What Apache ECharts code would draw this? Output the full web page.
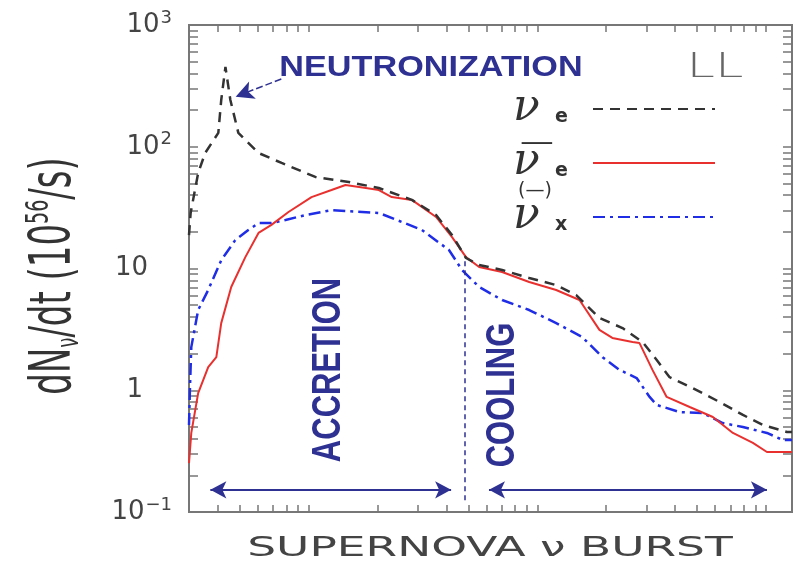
<!DOCTYPE html>
<html>
<head>
<meta charset="utf-8">
<script src="https://cdn.jsdelivr.net/npm/echarts@6/dist/echarts.min.js"></script>
<style>
  html, body { margin: 0; padding: 0; background: #fff; }
  #chart { width: 797px; height: 565px; }
</style>
</head>
<body>
<div id="chart"></div>
<script>
// time (log, arbitrary units) vs dN/dt in 10^56 /s
const nuE = [
  [3.0, 18.8], [3.05, 28.6], [3.29, 60.8], [3.53, 88.9], [4.03, 130], [4.15, 242], [4.33, 452],
  [4.55, 242], [4.93, 130], [6.04, 88.9], [7.62, 73.6], [10.7, 56.5], [15.0, 51.3], [20.3, 45.8],
  [28.3, 36.6], [36.1, 27.5], [42.4, 18.8], [48.8, 12.2], [55.7, 10.7], [70.2, 9.72], [92.2, 8.36],
  [121, 7.31], [148, 6.05], [187, 3.92], [236, 3.24], [289, 2.49], [333, 1.77], [379, 1.28],
  [479, 1.04], [628, 0.80], [793, 0.627], [970, 0.519], [1236, 0.454], [1300, 0.454]
]
const nuEbar = [
  [3.0, 0.252], [3.07, 0.446], [3.29, 0.948], [3.64, 1.55], [3.95, 1.87], [4.15, 3.56], [4.59, 7.05],
  [5.29, 12.4], [6.04, 19.6], [6.88, 22.8], [8.17, 29.1], [10.3, 38.6], [12.6, 44.1], [14.5, 48.5],
  [17.8, 45.8], [20.3, 44.1], [23.1, 38.6], [28.3, 36.6], [36.1, 26.5], [42.4, 18.1], [48.8, 12.4],
  [55.7, 10.3], [70.2, 9.36], [92.2, 7.74], [121, 6.66], [153, 5.51], [187, 3.13], [213, 2.69],
  [261, 2.49], [280, 2.44], [319, 1.47], [368, 0.881], [464, 0.728], [586, 0.603], [717, 0.446],
  [877, 0.369], [1010, 0.311], [1300, 0.311]
]
const nuX = [
  [3.0, 0.519], [3.03, 1.06], [3.07, 2.26], [3.29, 4.56], [3.64, 6.66], [4.15, 11.7], [4.78, 17.1],
  [5.45, 20.7], [6.04, 23.6], [6.88, 23.6], [7.93, 25.0], [9.70, 27.5], [12.6, 30.2], [20.3, 28.6],
  [25.6, 24.1], [31.3, 20.7], [41.1, 14.2], [46.9, 9.72], [55.7, 7.05], [70.2, 5.51], [92.2, 4.56],
  [121, 3.56], [157, 2.74], [193, 1.87], [229, 1.47], [272, 1.26], [310, 0.881], [333, 0.757],
  [420, 0.662], [530, 0.650], [647, 0.538], [793, 0.499], [1010, 0.446], [1188, 0.390], [1300, 0.390]
]

// axis ranges and tick positions
const xRange = [3, 1300]
const yRange = [0.1, 1000]
const xMajorTicks = [10, 100, 1000]
const xMinorTicks = [4, 5, 6, 7, 8, 9, 20, 30, 40, 50, 60, 70, 80, 90, 200, 300, 400, 500, 600, 700, 800, 900]
const yMajorTicks = [1, 10, 100]
const yMinorTicks = [0.2, 0.3, 0.4, 0.5, 0.6, 0.7, 0.8, 0.9, 2, 3, 4, 5, 6, 7, 8, 9,
  20, 30, 40, 50, 60, 70, 80, 90, 200, 300, 400, 500, 600, 700, 800, 900]

// phase boundaries / annotation anchors (data units)
const accretionSpan = [3.72, 42.0]
const coolingSpan = [61.5, 1010]
const phaseArrowY = 0.152
const boundaryT = 48.3
const boundaryRange = [0.125, 11.5]
const neutronizationArrow = [[7.6, 360], [4.8, 258]]

const NAVY = '#2e3192'
const FRAME = '#777'
const CLEAR = 'rgba(0,0,0,0)'

const chart = echarts.init(document.getElementById('chart'))

const supers = { 3: '3', 2: '2', '-1': '\u22121' }
const yLabel = (v) => {
  const e = Math.round(Math.log10(v))
  if (e === 1) return '{b|10}{g|}'
  if (e === 0) return '{b|1}{g2|}'
  return '{b|10}{s|' + supers[e] + '}'
}

const xTickValues = xMinorTicks.concat(xMajorTicks).sort((a, b) => a - b)
const yTickValues = yMinorTicks.concat(yMajorTicks).sort((a, b) => a - b)

// log axis with inside ticks at custom values; mirrored copies for top/right
const xAxisDef = (position, main) => ({
  type: 'log', min: xRange[0], max: xRange[1], position,
  axisLine: { show: main, lineStyle: { color: FRAME, width: 2 } },
  axisTick: { show: true, inside: true, length: 7, customValues: xTickValues, lineStyle: { color: FRAME, width: 1.5 } },
  axisLabel: { show: false }, splitLine: { show: false }
})
const yAxisDef = (position, main) => ({
  type: 'log', min: yRange[0], max: yRange[1], position,
  axisLine: { show: main, lineStyle: { color: FRAME, width: 2 } },
  axisTick: { show: true, inside: true, length: 9, customValues: yTickValues, lineStyle: { color: FRAME, width: 1.5 } },
  splitLine: { show: false },
  axisLabel: main ? {
    margin: 17,
    formatter: yLabel,
    color: '#444',
    rich: {
      b: { fontFamily: 'DejaVu Sans', fontSize: 26, color: '#444' },
      s: { fontFamily: 'DejaVu Sans', fontSize: 18, color: '#444', padding: [0, 0, 14, 1] },
      g: { width: 24 },
      g2: { width: 29 }
    }
  } : { show: false }
})

const option = {
  animation: false,
  grid: { left: 189, top: 25, right: 5, bottom: 53, show: true, borderColor: FRAME, borderWidth: 2 },
  xAxis: [xAxisDef('bottom', true), xAxisDef('top', false)],
  yAxis: [yAxisDef('left', true), yAxisDef('right', false)],
  legend: {
    data: ['nue', 'nuebar', 'nux'],
    orient: 'vertical', left: 513, top: 87, align: 'right', padding: 0,
    itemWidth: 122, itemHeight: 12, itemGap: 10,
    formatter: (name) => {
      if (name === 'nue') return '{nu|\u03bd}{sub|e}'
      if (name === 'nuebar') return '{nu|\u03bd}{sub|e}'
      return '{nu|\u03bd}{sub|x}'
    },
    textStyle: {
      color: '#333',
      rich: {
        nu: { fontFamily: 'DejaVu Serif', fontStyle: 'italic', fontSize: 44, width: 42, align: 'left', color: '#333', lineHeight: 38 },
        sub: { fontFamily: 'DejaVu Sans', fontWeight: 'bold', fontSize: 19, width: 33, align: 'left', color: '#333', padding: [16, 0, 0, 0] }
      }
    }
  },
  graphic: [
    { type: 'text', x: 431, y: 68, scaleX: 1.14,
      style: { text: 'NEUTRONIZATION', font: 'bold 30px "Liberation Sans"', fill: NAVY, align: 'center', verticalAlign: 'middle' } },
    { type: 'text', x: 715, y: 68, scaleX: 1.5,
      style: { text: 'LL', font: '200 34px "DejaVu Sans"', fill: '#666', align: 'center', verticalAlign: 'middle' } },
    { type: 'text', x: 537, y: 143, scaleX: 1.3,
      style: { text: '\u2014', font: '26px "DejaVu Sans"', fill: '#333', align: 'center', verticalAlign: 'middle' } },
    { type: 'text', x: 535, y: 191,
      style: { text: '(\u2014)', font: '19px "DejaVu Sans"', fill: '#333', align: 'center', verticalAlign: 'middle' } },
    { type: 'text', x: 329, y: 370, rotation: Math.PI / 2, scaleY: 1.3,
      style: { text: 'ACCRETION', font: 'bold 31px "Liberation Sans"', fill: NAVY, align: 'center', verticalAlign: 'middle' } },
    { type: 'text', x: 503, y: 395, rotation: Math.PI / 2, scaleY: 1.3,
      style: { text: 'COOLING', font: 'bold 31px "Liberation Sans"', fill: NAVY, align: 'center', verticalAlign: 'middle' } },
    { type: 'text', x: 55, y: 276, rotation: Math.PI / 2, scaleY: 1.65,
      style: {
        text: '{t|dN}{n|\u03bd}{t|/dt (10}{p|56}{t|/s)}',
        align: 'center', verticalAlign: 'middle',
        rich: {
          t: { fontFamily: 'DejaVu Sans', fontSize: 34, fill: '#333' },
          n: { fontFamily: 'DejaVu Sans', fontSize: 18, fill: '#333', padding: [18, 0, 0, 0] },
          p: { fontFamily: 'DejaVu Sans', fontSize: 19, fill: '#333', padding: [0, 0, 18, 0] }
        }
      } },
    { type: 'text', x: 490, y: 549, scaleX: 1.75,
      style: { text: 'SUPERNOVA \u03bd BURST', font: '26px "DejaVu Sans"', fill: '#444', align: 'center', verticalAlign: 'middle' } }
  ],
  series: [
    {
      name: 'nux', type: 'line', data: nuX, symbol: 'none', z: 2,
      lineStyle: { color: '#1f2ee6', width: 2.5, type: [12, 5, 3, 5] },
      itemStyle: { color: CLEAR },
      markLine: {
        silent: true, symbol: ['none', 'none'], label: { show: false },
        lineStyle: { color: NAVY, width: 1.5, type: [5, 4] },
        data: [[{ coord: [boundaryT, boundaryRange[0]] }, { coord: [boundaryT, boundaryRange[1]] }]]
      }
    },
    {
      name: 'nuebar', type: 'line', data: nuEbar, symbol: 'none', z: 3,
      lineStyle: { color: '#e8312f', width: 2 },
      itemStyle: { color: CLEAR },
      markLine: {
        silent: true, symbol: ['arrow', 'arrow'], symbolSize: [13, 16], label: { show: false },
        lineStyle: { color: NAVY, width: 2, type: 'solid' },
        data: [
          [{ coord: [accretionSpan[0], phaseArrowY] }, { coord: [accretionSpan[1], phaseArrowY] }],
          [{ coord: [coolingSpan[0], phaseArrowY] }, { coord: [coolingSpan[1], phaseArrowY] }]
        ]
      }
    },
    {
      name: 'nue', type: 'line', data: nuE, symbol: 'none', z: 4,
      lineStyle: { color: '#333', width: 2.5, type: [10, 7] },
      itemStyle: { color: CLEAR },
      markLine: {
        silent: true, symbol: ['none', 'arrow'], symbolSize: [14, 18], label: { show: false },
        lineStyle: { color: NAVY, width: 1.5, type: [7, 3] },
        data: [[{ coord: neutronizationArrow[0] }, { coord: neutronizationArrow[1] }]]
      }
    }
  ]
}

chart.setOption(option)
</script>
</body>
</html>
